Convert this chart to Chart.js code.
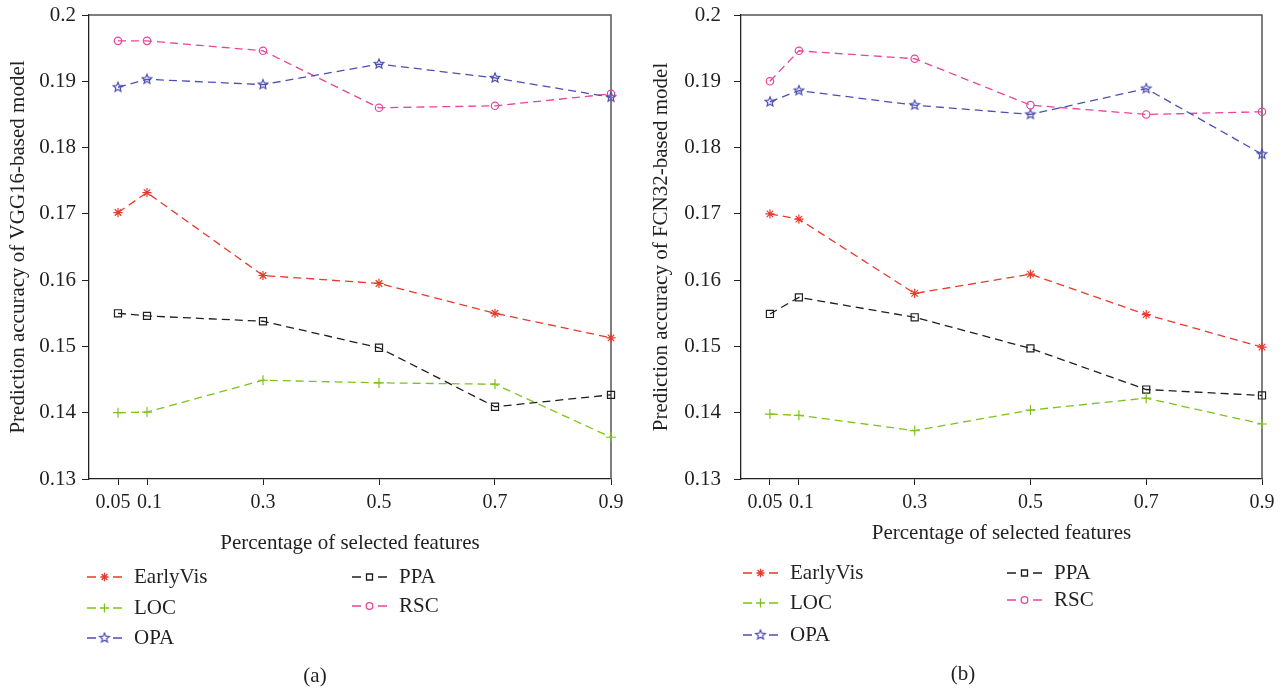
<!DOCTYPE html>
<html lang="en">
<head>
<meta charset="UTF-8">
<title>Prediction accuracy vs. percentage of selected features</title>
<style>
  body { margin: 0; background: #fff; }
  .row { display: flex; width: 1286px; height: 689px; }
  canvas { display: block; }
</style>
</head>
<body>
<div class="row">
  <canvas id="chartA" width="643" height="689"></canvas>
  <canvas id="chartB" width="643" height="689"></canvas>
</div>
<script src="https://cdn.jsdelivr.net/npm/chart.js"></script>
<script>
// x positions (fraction of selected features) and axis labels
const xValues = [0.05, 0.1, 0.3, 0.5, 0.7, 0.9];
const xTickLabels = ['0.05', '0.1', '0.3', '0.5', '0.7', '0.9'];
const yTicks = [0.13, 0.14, 0.15, 0.16, 0.17, 0.18, 0.19, 0.2];
const yTickLabels = ['0.13', '0.14', '0.15', '0.16', '0.17', '0.18', '0.19', '0.2'];
const seriesNames = ['EarlyVis', 'LOC', 'OPA', 'PPA', 'RSC'];

// VGG16-based model
const vggEarlyVis = [0.1702, 0.1732, 0.1607, 0.1595, 0.1550, 0.1513];
const vggLOC      = [0.1400, 0.1401, 0.1449, 0.1445, 0.1443, 0.1363];
const vggOPA      = [0.1891, 0.1903, 0.1895, 0.1926, 0.1905, 0.1876];
const vggPPA      = [0.1550, 0.1546, 0.1538, 0.1498, 0.1409, 0.1427];
const vggRSC      = [0.1961, 0.1961, 0.1946, 0.1860, 0.1863, 0.1881];

// FCN32-based model
const fcnEarlyVis = [0.1700, 0.1692, 0.1580, 0.1609, 0.1548, 0.1499];
const fcnLOC      = [0.1398, 0.1396, 0.1373, 0.1404, 0.1422, 0.1383];
const fcnOPA      = [0.1869, 0.1886, 0.1864, 0.1850, 0.1889, 0.1790];
const fcnPPA      = [0.1549, 0.1574, 0.1544, 0.1497, 0.1435, 0.1426];
const fcnRSC      = [0.1900, 0.1946, 0.1934, 0.1864, 0.1850, 0.1854];

const FONT = '"Liberation Serif", "Times New Roman", serif';
const TEXT = '#231f20';
const AXIS = '#222';

// open five-pointed star, used as a custom point style
function makePentagram(color, r) {
    const c = document.createElement('canvas');
    const s = Math.ceil(r * 2 + 4);
    c.width = s; c.height = s;
    const g = c.getContext('2d');
    g.strokeStyle = color;
    g.lineWidth = 1.2;
    g.beginPath();
    for (let i = 0; i < 10; i++) {
        const rad = i % 2 ? r * 0.45 : r;
        const a = -Math.PI / 2 + i * Math.PI / 5;
        const px = s / 2 + rad * Math.cos(a), py = s / 2 + rad * Math.sin(a);
        if (i) g.lineTo(px, py); else g.moveTo(px, py);
    }
    g.closePath();
    g.stroke();
    return c;
}

const seriesStyles = {
    EarlyVis: { color: '#e8392c', point: 'star', radius: 4.6 },
    LOC:      { color: '#7cc41c', point: 'cross', radius: 5 },
    OPA:      { color: '#4d4fb3', point: makePentagram('#4d4fb3', 5), radius: 5 },
    PPA:      { color: '#1e1e1e', point: 'rect', radius: 5 },
    RSC:      { color: '#e8449a', point: 'circle', radius: 3.7 }
};

// legend slot (column, row) for each series
const legendSlots = { EarlyVis: [0, 0], LOC: [0, 1], OPA: [0, 2], PPA: [1, 0], RSC: [1, 1] };

// box frame, legend and panel caption
const extrasPlugin = {
    id: 'extras',
    beforeDatasetsDraw(chart) {
        const { ctx, chartArea: a } = chart;
        ctx.save();
        ctx.strokeStyle = '#555';
        ctx.lineWidth = 1.5;
        ctx.beginPath();
        ctx.moveTo(a.left, a.top);
        ctx.lineTo(a.right, a.top);
        ctx.lineTo(a.right, a.bottom);
        ctx.stroke();
        ctx.restore();
    },
    afterDraw(chart, args, opts) {
        const ctx = chart.ctx;
        ctx.save();
        ctx.font = '21px ' + FONT;
        ctx.textBaseline = 'middle';
        chart.data.datasets.forEach(ds => {
            const st = seriesStyles[ds.label];
            const [col, row] = legendSlots[ds.label];
            const x0 = opts.cols[col];
            const y = opts.rows[col][row];
            const x1 = x0 + 35;
            ctx.strokeStyle = st.color;
            ctx.lineWidth = 1.3;
            ctx.setLineDash([]);
            ctx.beginPath();
            ctx.moveTo(x0, y); ctx.lineTo(x0 + 9, y);
            ctx.moveTo(x1 - 9, y); ctx.lineTo(x1, y);
            ctx.stroke();
            ctx.fillStyle = 'rgba(0,0,0,0)';
            Chart.helpers.drawPoint(ctx, {
                pointStyle: st.point,
                radius: st.point === 'rect' ? st.radius * 0.85 : st.radius * 0.9,
                rotation: 0,
                borderWidth: 1.2
            }, x0 + 17.5, y);
            ctx.fillStyle = TEXT;
            ctx.textAlign = 'left';
            ctx.fillText(ds.label, x0 + 47, y);
        });
        ctx.textAlign = 'center';
        ctx.fillStyle = TEXT;
        ctx.fillText(opts.caption, opts.captionPos[0], opts.captionPos[1]);
        ctx.restore();
    }
};

// the first two x labels sit close together, so nudge them apart with a space
function xLabel(v, i) {
    if (i === 0) return xTickLabels[i] + '  ';
    if (i === 1) return ' ' + xTickLabels[i];
    return xTickLabels[i];
}

function buildChart(id, yTitle, seriesValues, lay) {
    const datasets = seriesNames.map((name, k) => {
        const st = seriesStyles[name];
        return {
            label: name,
            data: xValues.map((x, i) => ({ x: x, y: seriesValues[k][i] })),
            borderColor: st.color,
            borderWidth: 1.3,
            borderDash: [8, 5],
            pointStyle: st.point,
            pointRadius: st.radius,
            pointBorderColor: st.color,
            pointBackgroundColor: 'rgba(0,0,0,0)',
            pointBorderWidth: 1.2,
            fill: false,
            tension: 0,
            clip: false
        };
    });

    return new Chart(document.getElementById(id), {
        type: 'line',
        data: { datasets: datasets },
        plugins: [extrasPlugin],
        options: {
            responsive: false,
            animation: false,
            layout: { padding: { left: 0, top: 15, right: lay.padRight, bottom: 0 } },
            plugins: {
                legend: { display: false },
                tooltip: { enabled: false },
                extras: lay.extras
            },
            scales: {
                x: {
                    type: 'linear',
                    min: 0,
                    max: 0.9,
                    afterBuildTicks: s => { s.ticks = xValues.map(v => ({ value: v })); },
                    afterFit: s => { s.height = 210; },
                    grid: { drawOnChartArea: false, drawTicks: true, tickLength: 6, color: AXIS, tickColor: AXIS },
                    border: { color: AXIS, width: 1.3 },
                    ticks: {
                        autoSkip: false,
                        maxRotation: 0,
                        padding: 6,
                        color: TEXT,
                        font: { family: FONT, size: 20 },
                        callback: xLabel
                    },
                    title: {
                        display: true,
                        text: 'Percentage of selected features',
                        color: TEXT,
                        font: { family: FONT, size: 21 },
                        padding: { top: 0, bottom: lay.titleBottom }
                    }
                },
                y: {
                    type: 'linear',
                    min: 0.13,
                    max: 0.2,
                    afterBuildTicks: s => { s.ticks = yTicks.map(v => ({ value: v })); },
                    afterFit: s => {
                        s.width = lay.left;
                        // keep the plot box at the fixed top margin
                        s.paddingTop = 0;
                        s.paddingBottom = 0;
                    },
                    grid: { drawOnChartArea: false, drawTicks: true, tickLength: 7, color: AXIS, tickColor: AXIS },
                    border: { color: AXIS, width: 1.3 },
                    ticks: {
                        padding: lay.tickPad,
                        color: TEXT,
                        font: { family: FONT, size: 21 },
                        callback: (v, i) => yTickLabels[i]
                    },
                    title: {
                        display: true,
                        text: yTitle,
                        color: TEXT,
                        font: { family: FONT, size: 21 },
                        padding: { top: 6, bottom: 0 }
                    }
                }
            }
        }
    });
}

buildChart('chartA', 'Prediction accuracy of VGG16-based model',
    [vggEarlyVis, vggLOC, vggOPA, vggPPA, vggRSC],
    {
        left: 89, padRight: 32, tickPad: 6, titleBottom: 133,
        extras: { cols: [87, 352], rows: [[577, 608, 638], [577, 606]], caption: '(a)', captionPos: [315, 676] }
    });

buildChart('chartB', 'Prediction accuracy of FCN32-based model',
    [fcnEarlyVis, fcnLOC, fcnOPA, fcnPPA, fcnRSC],
    {
        left: 98, padRight: 24, tickPad: 13, titleBottom: 143,
        extras: { cols: [100, 364], rows: [[573, 603, 635], [573, 600]], caption: '(b)', captionPos: [320, 674] }
    });
</script>
</body>
</html>
